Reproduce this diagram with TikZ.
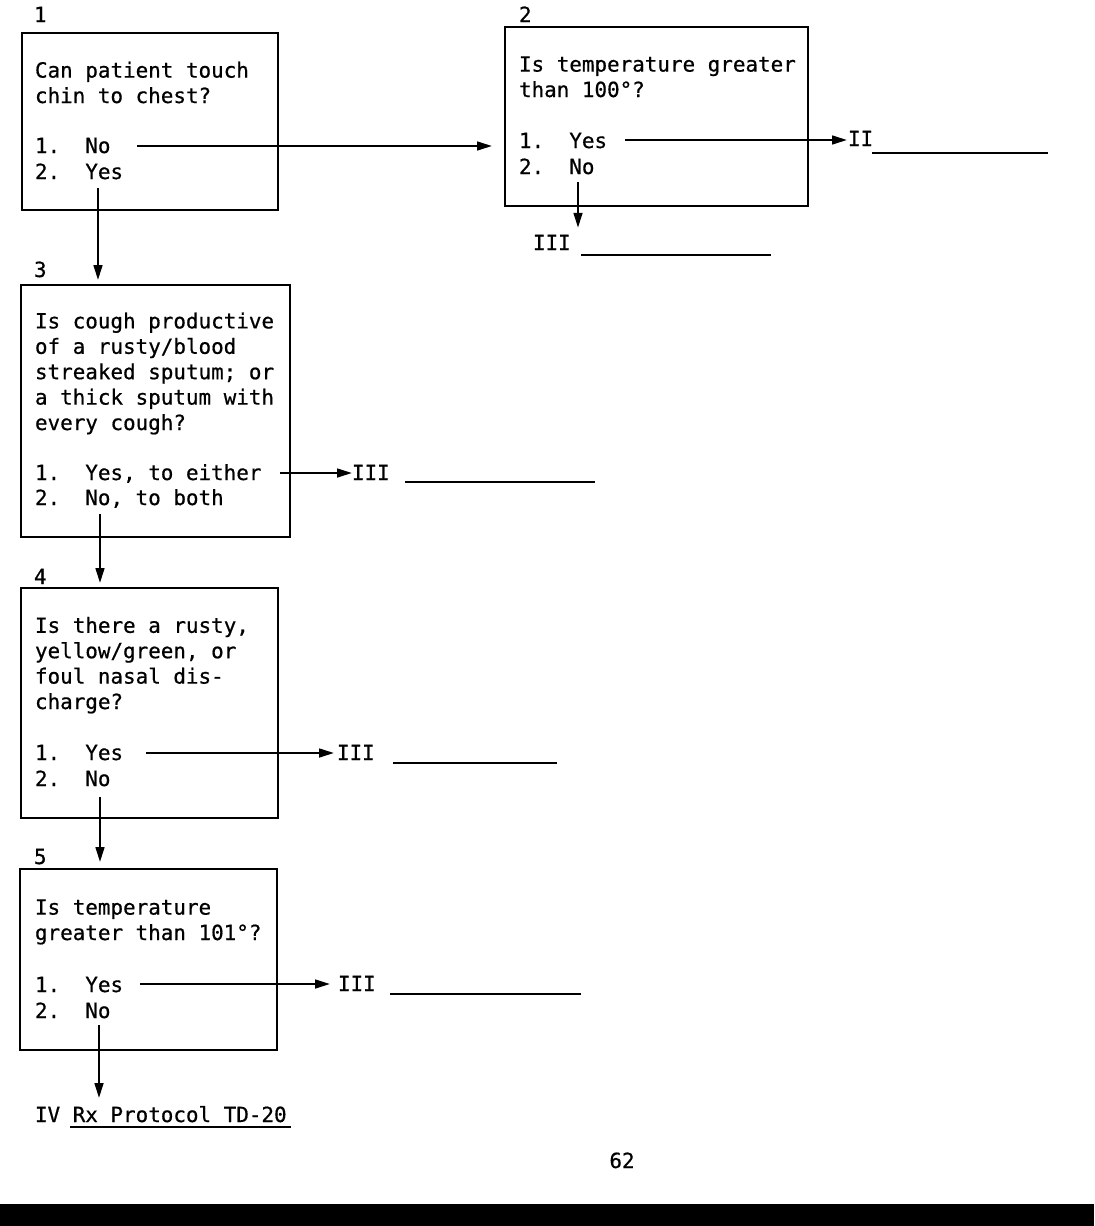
\documentclass[tikz,border=0pt]{standalone}
\usepackage{fontspec}
\newfontfamily\tw[FakeBold=0.6]{DejaVu Sans Mono}
\usetikzlibrary{arrows.meta}
\begin{document}
\frenchspacing
\begin{tikzpicture}[x=0.5pt,y=-0.5pt,
  txt/.style={font=\tw\fontsize{10.45pt}{12.7pt}\selectfont, inner sep=0pt, outer sep=0pt, anchor=base west, align=left},
  box/.style={draw, line width=1.2pt, rectangle, inner sep=0pt, outer sep=0pt, anchor=north west},
  arr/.style={line width=1.1pt, -{Triangle[length=7.5pt,width=4.4pt]}},
  blank/.style={line width=1pt}]
\useasboundingbox (0,0) rectangle (1094,1226);
\fill[white] (0,0) rectangle (1094,1226);
\fill[black] (0,1204) rectangle (1094,1226);

% boxes
\node[box, minimum width=128pt, minimum height=88.5pt] (b1) at (22,33) {};
\node[box, minimum width=151.5pt, minimum height=89.5pt] (b2) at (505,27) {};
\node[box, minimum width=134.5pt, minimum height=126pt] (b3) at (21,285) {};
\node[box, minimum width=128.5pt, minimum height=115pt] (b4) at (21,588) {};
\node[box, minimum width=128.5pt, minimum height=90.5pt] (b5) at (20,869) {};

% box numbers
\node[txt] (n1) at (34,22) {1};
\node[txt] (n2) at (519,22) {2};
\node[txt] (n3) at (34,277) {3};
\node[txt] (n4) at (34,584) {4};
\node[txt] (n5) at (34,864) {5};

% questions (base anchor = last line)
\node[txt] (q1) at (35,103) {Can patient touch\\chin to chest?};
\node[txt] (q2) at (519,97) {Is temperature greater\\than 100°?};
\node[txt] (q3) at (35,430) {Is cough productive\\of a rusty/blood\\streaked sputum; or\\a thick sputum with\\every cough?};
\node[txt] (q4) at (35,709) {Is there a rusty,\\yellow/green, or\\foul nasal dis-\\charge?};
\node[txt] (q5) at (35,940) {Is temperature\\greater than 101°?};

% options
\node[txt] (o11) at (35,153) {1.~~No};
\node[txt] (o12) at (35,179) {2.~~Yes};
\node[txt] (o21) at (519,148) {1.~~Yes};
\node[txt] (o22) at (519,174) {2.~~No};
\node[txt] (o31) at (35,480) {1.~~Yes, to either};
\node[txt] (o32) at (35,505) {2.~~No, to both};
\node[txt] (o41) at (35,760) {1.~~Yes};
\node[txt] (o42) at (35,786) {2.~~No};
\node[txt] (o51) at (35,992) {1.~~Yes};
\node[txt] (o52) at (35,1018) {2.~~No};

% outcomes
\node[txt] (ii) at (848,146) {II};
\node[txt] (iii2) at (533,250) {III};
\node[txt] (iii3) at (352,480) {III};
\node[txt] (iii4) at (337,760) {III};
\node[txt] (iii5) at (338,991) {III};
\node[txt] (iv) at (35,1122) {IV Rx Protocol TD-20};
\node[txt, anchor=base] (pg) at (622,1168) {62};

% blanks
\draw[blank] (872,153) -- (1048,153);
\draw[blank] (581,255) -- (771,255);
\draw[blank] (405,482) -- (595,482);
\draw[blank] (393,763) -- (557,763);
\draw[blank] (390,994) -- (581,994);
\draw[blank] (70,1127) -- (291,1127);

% arrow start points
\path (o11.base west) ++(102,-7) coordinate (s11);
\path (o12.base west) ++(63,9) coordinate (s12);
\path (o21.base west) ++(106,-8) coordinate (s21);
\path (o22.base west) ++(59,8) coordinate (s22);
\path (o31.base west) ++(245,-7) coordinate (s31);
\path (o32.base west) ++(65,9) coordinate (s32);
\path (o41.base west) ++(111,-7) coordinate (s41);
\path (o42.base west) ++(65,11) coordinate (s42);
\path (o51.base west) ++(105,-8) coordinate (s51);
\path (o52.base west) ++(64,7) coordinate (s52);

% connectors
\draw[arr, shorten >=6.5pt] (s11) -- (s11 -| b2.west);
\draw[arr, shorten >=2.5pt] (s12) -- (s12 |- b3.north);
\draw[arr, shorten >=0.5pt] (s21) -- (s21 -| ii.west);
\draw[arr, shorten >=3.5pt] (s22) -- (s22 |- iii2.north);
\draw[arr] (s31) -- (s31 -| iii3.west);
\draw[arr, shorten >=2.5pt] (s32) -- (s32 |- b4.north);
\draw[arr, shorten >=1.5pt] (s41) -- (s41 -| iii4.west);
\draw[arr, shorten >=3.5pt] (s42) -- (s42 |- b5.north);
\draw[arr, shorten >=4pt] (s51) -- (s51 -| iii5.west);
\draw[arr, shorten >=4pt] (s52) -- (s52 |- iv.north);
\end{tikzpicture}
\end{document}
